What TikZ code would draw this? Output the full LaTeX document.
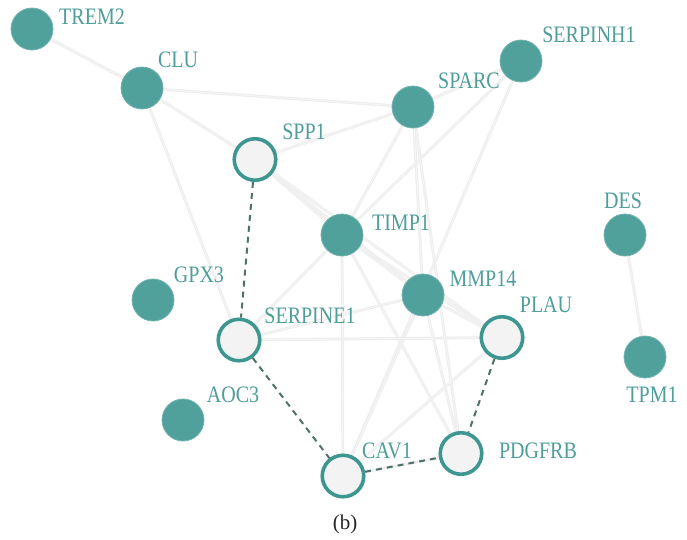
\documentclass[tikz,border=0pt]{standalone}
\usepackage{fontspec}
\setmainfont{Liberation Serif}
\definecolor{tealfill}{RGB}{80,160,156}
\definecolor{tealring}{RGB}{62,150,145}
\definecolor{labelc}{RGB}{78,158,154}
\definecolor{dashc}{RGB}{80,112,108}
\definecolor{edgewide}{RGB}{245,245,245}
\definecolor{edgethin}{RGB}{233,233,233}
\definecolor{whitefill}{RGB}{243,243,243}
\newcommand{\tallt}[1]{\scalebox{1}[1.18]{#1}}
\begin{document}
\begin{tikzpicture}[x=1pt,y=-1pt,
  filled/.style={circle,fill=tealfill,draw=tealfill!80!white,line width=0.8pt,minimum size=42pt,inner sep=0pt},
  hollow/.style={circle,fill=whitefill,draw=tealring,line width=3.6pt,minimum size=41.5pt,inner sep=0pt},
  lbl/.style={text=labelc,font=\fontsize{20}{22}\selectfont,inner sep=0pt},
  gwide/.style={draw=edgewide,line width=3.2pt},
  gthin/.style={draw=edgethin,line width=0.45pt,double=edgewide,double distance=1.2pt},
  dashe/.style={draw=dashc,line width=2pt,dash pattern=on 6pt off 5pt}]
\useasboundingbox[fill=white] (0,0) rectangle (687,539);
% node positions
\coordinate (pTREM2) at (32,29);
\coordinate (pCLU) at (142,88);
\coordinate (pSPP1) at (255,159.5);
\coordinate (pTIMP1) at (342,235);
\coordinate (pSPARC) at (413,107);
\coordinate (pSERPINH1) at (521,61);
\coordinate (pDES) at (625,235);
\coordinate (pTPM1) at (645,357);
\coordinate (pMMP14) at (423,295);
\coordinate (pSERPINE1) at (239,340);
\coordinate (pPLAU) at (502,337.5);
\coordinate (pGPX3) at (153,300);
\coordinate (pAOC3) at (183,420);
\coordinate (pCAV1) at (343,476);
\coordinate (pPDGFRB) at (461,453.5);
% gray edges
\foreach \s in {gwide,gthin}{
\foreach \a/\b in {TREM2/CLU,CLU/SPARC,CLU/SPP1,CLU/SERPINE1,SPP1/SPARC,SPP1/TIMP1,SPP1/MMP14,SPP1/PLAU,
  SPARC/SERPINH1,SPARC/TIMP1,SPARC/MMP14,SPARC/PDGFRB,SERPINH1/TIMP1,SERPINH1/CAV1,
  TIMP1/MMP14,TIMP1/PLAU,TIMP1/SERPINE1,TIMP1/CAV1,TIMP1/PDGFRB,
  MMP14/SERPINE1,MMP14/PLAU,MMP14/CAV1,MMP14/PDGFRB,SERPINE1/PLAU,PLAU/CAV1,CAV1/PDGFRB,DES/TPM1}
  \path[\s] (p\a) -- (p\b);
}
% nodes
\node[filled] (TREM2) at (pTREM2) {};
\node[filled] (CLU) at (pCLU) {};
\node[filled] (TIMP1) at (pTIMP1) {};
\node[filled] (SPARC) at (pSPARC) {};
\node[filled] (SERPINH1) at (pSERPINH1) {};
\node[filled] (DES) at (pDES) {};
\node[filled] (TPM1) at (pTPM1) {};
\node[filled] (MMP14) at (pMMP14) {};
\node[filled] (GPX3) at (pGPX3) {};
\node[filled] (AOC3) at (pAOC3) {};
\node[hollow] (SPP1) at (pSPP1) {};
\node[hollow] (SERPINE1) at (pSERPINE1) {};
\node[hollow] (PLAU) at (pPLAU) {};
\node[hollow] (CAV1) at (pCAV1) {};
\node[hollow] (PDGFRB) at (pPDGFRB) {};
% dashed edges
\draw[dashe] (SPP1) -- (SERPINE1);
\draw[dashe] (SERPINE1) -- (CAV1);
\draw[dashe] (CAV1) -- (PDGFRB);
\draw[dashe] (PLAU) -- (PDGFRB);
% labels
\node[lbl] (lTREM2) at (92,16.5) {\tallt{TREM2}};
\node[lbl] (lCLU) at (178,59.5) {\tallt{CLU}};
\node[lbl] (lSPP1) at (304,132) {\tallt{SPP1}};
\node[lbl] (lTIMP1) at (401,223) {\tallt{TIMP1}};
\node[lbl] (lSPARC) at (469,81) {\tallt{SPARC}};
\node[lbl] (lSERPINH1) at (589,34.5) {\tallt{SERPINH1}};
\node[lbl] (lDES) at (623,201) {\tallt{DES}};
\node[lbl] (lMMP14) at (483,279) {\tallt{MMP14}};
\node[lbl] (lSERPINE1) at (310,316) {\tallt{SERPINE1}};
\node[lbl] (lPLAU) at (546,305) {\tallt{PLAU}};
\node[lbl] (lGPX3) at (199,274.5) {\tallt{GPX3}};
\node[lbl] (lAOC3) at (233,395) {\tallt{AOC3}};
\node[lbl] (lCAV1) at (387,450.5) {\tallt{CAV1}};
\node[lbl] (lPDGFRB) at (538,450.5) {\tallt{PDGFRB}};
\node[lbl] (lTPM1) at (652,394.5) {\tallt{TPM1}};
\node[text=black!85,font=\fontsize{21}{23}\selectfont,inner sep=0pt] (cap) at (345,524) {(b)};
\end{tikzpicture}
\end{document}
